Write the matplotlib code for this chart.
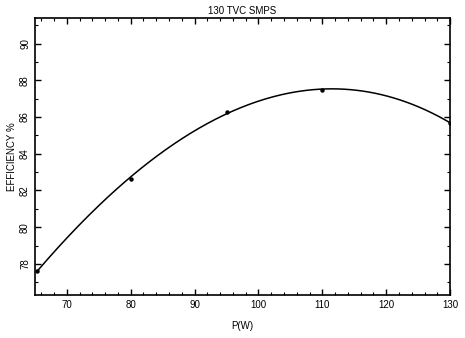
import matplotlib
matplotlib.use("Agg")
import matplotlib.pyplot as plt
from matplotlib.ticker import MultipleLocator
import numpy as np

# Measured points (output power in W, efficiency in %)
power = [65.3, 80, 95, 110, 130]
efficiency = [77.6, 82.65, 86.3, 87.45, 85.7]

title = "130 TVC SMPS"
x_label = "P(W)"
y_label = "EFFICIENCY %"

plt.rcParams['font.family'] = ['Liberation Sans', 'DejaVu Sans']

fig = plt.figure(figsize=(4.65, 3.38), dpi=100)
ax = fig.add_axes([0.075, 0.127, 0.893, 0.82])

# smooth fitted curve through the measured points
coef = np.polyfit(power, efficiency, 3)
xs = np.linspace(min(power), max(power), 200)
ax.plot(xs, np.polyval(coef, xs), color='black', lw=1.1)
ax.plot(power, efficiency, 'o', color='black', ms=2.2)

ax.set_xlim(65, 130)
ax.set_ylim(76.3, 91.4)
ax.xaxis.set_major_locator(MultipleLocator(10))
ax.xaxis.set_minor_locator(MultipleLocator(2))
ax.yaxis.set_major_locator(MultipleLocator(2))
ax.yaxis.set_minor_locator(MultipleLocator(1))
ax.tick_params(which='both', direction='in', top=True, right=True, labelsize=7)
ax.tick_params(which='major', length=4, width=1)
ax.tick_params(which='minor', length=2, width=0.8)
plt.setp(ax.get_yticklabels(), rotation=90, va='center')
for s in ax.spines.values():
    s.set_linewidth(1.2)

ax.set_title(title, fontsize=7, pad=3)
ax.set_xlabel(x_label, fontsize=7, labelpad=8)
ax.set_ylabel(y_label, fontsize=7, labelpad=2)

fig.savefig("out.png", dpi=100)
